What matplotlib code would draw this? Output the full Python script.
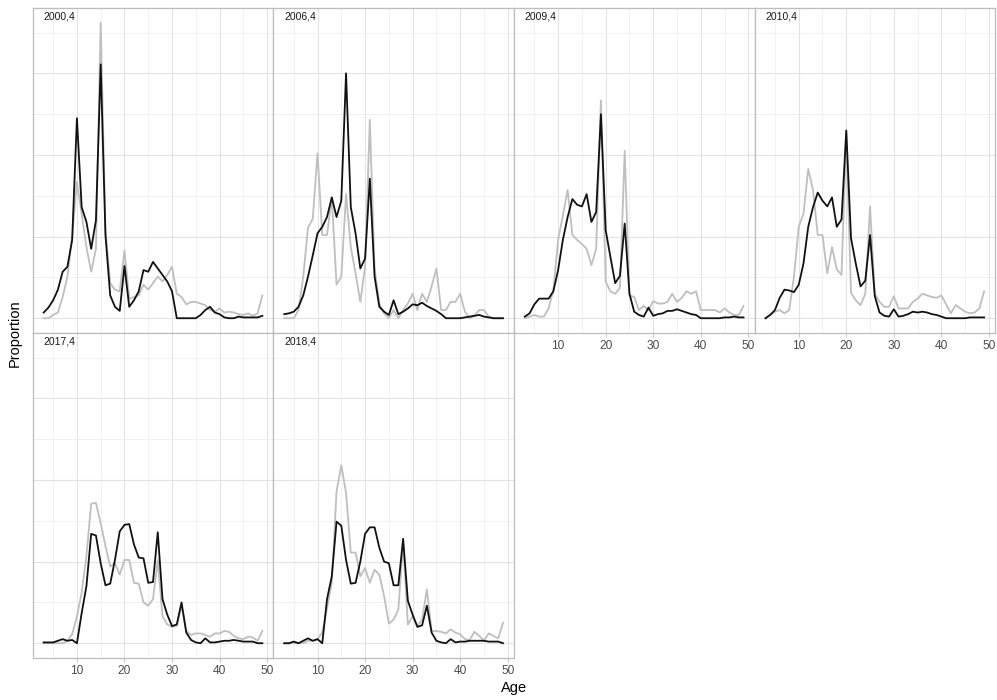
import matplotlib
matplotlib.use("Agg")
import matplotlib.pyplot as plt
from matplotlib.ticker import MultipleLocator
import numpy as np

plt.rcParams['font.family'] = ['Liberation Sans', 'DejaVu Sans']

# ages in the catch, 3..49
ages = np.arange(3, 50)

labels = ["2000,4", "2006,4", "2009,4", "2010,4", "2017,4", "2018,4"]

# observed proportions at age (black) and predicted (grey)
obs_2000 = [0.007, 0.013, 0.022, 0.035, 0.057, 0.063, 0.096, 0.245, 0.136, 0.118,
            0.085, 0.120, 0.311, 0.102, 0.028, 0.014, 0.009, 0.064, 0.014, 0.022,
            0.033, 0.059, 0.057, 0.069, 0.061, 0.053, 0.045, 0.033, 0.000, 0.000,
            0.000, 0.000, 0.000, 0.004, 0.010, 0.014, 0.007, 0.005, 0.001, 0.000,
            0.000, 0.002, 0.001, 0.001, 0.001, 0.001, 0.003]
pred_2000 = [0.000, 0.000, 0.004, 0.007, 0.026, 0.051, 0.100, 0.167, 0.128, 0.087,
             0.057, 0.085, 0.362, 0.108, 0.043, 0.035, 0.033, 0.083, 0.024, 0.026,
             0.028, 0.041, 0.035, 0.043, 0.051, 0.045, 0.053, 0.063, 0.030, 0.026,
             0.017, 0.020, 0.020, 0.018, 0.016, 0.010, 0.008, 0.012, 0.007, 0.008,
             0.007, 0.005, 0.004, 0.006, 0.003, 0.006, 0.028]

obs_2006 = [0.005, 0.006, 0.008, 0.014, 0.028, 0.051, 0.077, 0.104, 0.112, 0.124,
            0.148, 0.124, 0.144, 0.300, 0.136, 0.104, 0.061, 0.073, 0.171, 0.051,
            0.014, 0.008, 0.004, 0.022, 0.005, 0.008, 0.012, 0.017, 0.016, 0.019,
            0.015, 0.012, 0.009, 0.005, 0.000, 0.000, 0.000, 0.000, 0.001, 0.002,
            0.003, 0.004, 0.002, 0.001, 0.000, 0.000, 0.000]
pred_2006 = [0.000, 0.000, 0.000, 0.010, 0.051, 0.111, 0.122, 0.202, 0.102, 0.102,
             0.148, 0.041, 0.051, 0.152, 0.087, 0.055, 0.020, 0.063, 0.243, 0.061,
             0.018, 0.006, 0.000, 0.010, 0.000, 0.010, 0.018, 0.030, 0.010, 0.030,
             0.020, 0.039, 0.061, 0.010, 0.010, 0.020, 0.020, 0.030, 0.008, 0.000,
             0.003, 0.010, 0.010, 0.002, 0.000, 0.000, 0.000]

obs_2009 = [0.002, 0.006, 0.017, 0.024, 0.024, 0.024, 0.033, 0.059, 0.096, 0.124,
            0.146, 0.139, 0.137, 0.152, 0.118, 0.130, 0.250, 0.108, 0.075, 0.043,
            0.052, 0.116, 0.030, 0.008, 0.004, 0.002, 0.013, 0.003, 0.005, 0.006,
            0.009, 0.009, 0.011, 0.009, 0.007, 0.005, 0.004, 0.000, 0.000, 0.000,
            0.000, 0.000, 0.001, 0.001, 0.002, 0.001, 0.001]
pred_2009 = [0.000, 0.002, 0.004, 0.002, 0.002, 0.012, 0.035, 0.096, 0.126, 0.157,
             0.102, 0.096, 0.091, 0.085, 0.065, 0.085, 0.267, 0.045, 0.033, 0.030,
             0.037, 0.205, 0.028, 0.026, 0.010, 0.015, 0.010, 0.021, 0.018, 0.018,
             0.020, 0.030, 0.020, 0.025, 0.033, 0.030, 0.033, 0.010, 0.010, 0.010,
             0.010, 0.007, 0.012, 0.007, 0.004, 0.004, 0.015]

obs_2010 = [0.000, 0.004, 0.010, 0.025, 0.035, 0.034, 0.032, 0.041, 0.067, 0.112,
            0.136, 0.154, 0.144, 0.137, 0.148, 0.112, 0.121, 0.230, 0.098, 0.067,
            0.039, 0.046, 0.102, 0.027, 0.007, 0.003, 0.002, 0.011, 0.002, 0.003,
            0.005, 0.008, 0.007, 0.008, 0.007, 0.005, 0.004, 0.002, 0.000, 0.000,
            0.000, 0.000, 0.000, 0.001, 0.001, 0.001, 0.001]
pred_2010 = [0.000, 0.004, 0.008, 0.010, 0.006, 0.010, 0.051, 0.112, 0.128, 0.183,
             0.157, 0.102, 0.102, 0.055, 0.087, 0.060, 0.053, 0.226, 0.031, 0.022,
             0.016, 0.030, 0.137, 0.030, 0.020, 0.014, 0.014, 0.027, 0.012, 0.012,
             0.012, 0.020, 0.024, 0.030, 0.028, 0.026, 0.025, 0.028, 0.017, 0.006,
             0.016, 0.012, 0.008, 0.006, 0.007, 0.012, 0.033]

obs_2017 = [0.001, 0.001, 0.001, 0.003, 0.005, 0.003, 0.004, 0.000, 0.037, 0.070,
            0.134, 0.132, 0.098, 0.071, 0.073, 0.102, 0.137, 0.145, 0.146, 0.121,
            0.105, 0.104, 0.074, 0.075, 0.136, 0.054, 0.035, 0.021, 0.023, 0.050,
            0.013, 0.004, 0.001, 0.000, 0.006, 0.001, 0.001, 0.002, 0.003, 0.003,
            0.004, 0.003, 0.002, 0.002, 0.002, 0.000, 0.000]
pred_2017 = [0.000, 0.000, 0.000, 0.000, 0.000, 0.003, 0.011, 0.033, 0.062, 0.107,
             0.171, 0.172, 0.147, 0.119, 0.094, 0.098, 0.084, 0.102, 0.102, 0.074,
             0.073, 0.050, 0.046, 0.054, 0.102, 0.033, 0.023, 0.020, 0.021, 0.046,
             0.015, 0.010, 0.012, 0.012, 0.010, 0.008, 0.012, 0.012, 0.015, 0.014,
             0.009, 0.006, 0.005, 0.008, 0.007, 0.003, 0.015]

obs_2018 = [0.000, 0.000, 0.002, 0.000, 0.003, 0.006, 0.003, 0.005, 0.000, 0.054,
            0.082, 0.149, 0.144, 0.102, 0.073, 0.074, 0.100, 0.134, 0.142, 0.142,
            0.117, 0.100, 0.098, 0.071, 0.071, 0.128, 0.052, 0.035, 0.020, 0.022,
            0.046, 0.013, 0.003, 0.001, 0.000, 0.005, 0.001, 0.002, 0.002, 0.003,
            0.003, 0.003, 0.003, 0.002, 0.002, 0.002, 0.000]
pred_2018 = [0.000, 0.000, 0.000, 0.000, 0.000, 0.003, 0.003, 0.005, 0.013, 0.043,
             0.074, 0.186, 0.218, 0.184, 0.111, 0.111, 0.082, 0.092, 0.074, 0.090,
             0.084, 0.058, 0.024, 0.029, 0.041, 0.123, 0.023, 0.033, 0.021, 0.029,
             0.066, 0.015, 0.015, 0.014, 0.012, 0.017, 0.013, 0.011, 0.005, 0.004,
             0.014, 0.009, 0.003, 0.012, 0.009, 0.006, 0.025]

obs = [obs_2000, obs_2006, obs_2009, obs_2010, obs_2017, obs_2018]
pred = [pred_2000, pred_2006, pred_2009, pred_2010, pred_2017, pred_2018]

W, H = 997, 700
fig = plt.figure(figsize=(W / 100, H / 100), dpi=100)

# facet grid geometry in pixels
left0, top0 = 32.7, 8.0
pw, ph = 240.6, 325.0
ncol = 4

# shared scales with 5% padding, like ggplot's default expansion
ymax = max(max(max(o), max(p)) for o, p in zip(obs, pred))
xr = ages.max() - ages.min()
xlim = (ages.min() - 0.05 * xr, ages.max() + 0.05 * xr)
ylim = (-0.05 * ymax, 1.05 * ymax)

border = "#bdbdbd"
for i, lab in enumerate(labels):
    r, c = divmod(i, ncol)
    x0 = left0 + c * pw
    y0 = top0 + r * ph
    ax = fig.add_axes([x0 / W, 1 - (y0 + ph) / H, pw / W, ph / H])

    ax.plot(ages, pred[i], color="#bfbfbf", lw=1.3, zorder=2)
    ax.plot(ages, obs[i], color="#111111", lw=1.3, zorder=3)

    ax.set_xlim(*xlim)
    ax.set_ylim(*ylim)
    ax.xaxis.set_major_locator(MultipleLocator(10))
    ax.xaxis.set_minor_locator(MultipleLocator(5))
    ax.yaxis.set_major_locator(MultipleLocator(0.1))
    ax.yaxis.set_minor_locator(MultipleLocator(0.05))
    ax.set_axisbelow(True)
    ax.grid(which="major", color="#e3e3e3", lw=0.8)
    ax.grid(which="minor", color="#efefef", lw=0.6)

    for s in ax.spines.values():
        s.set_color(border)
        s.set_linewidth(0.9)

    ax.tick_params(axis="y", which="both", left=False, labelleft=False)
    ax.tick_params(axis="x", which="minor", bottom=False)
    # x labels only where no panel sits underneath
    show_x = (i + ncol) >= len(labels)
    ax.tick_params(axis="x", which="major", length=3 if show_x else 0,
                   color=border, width=0.6, labelsize=8.6,
                   labelcolor="#4d4d4d", pad=2, labelbottom=show_x)

    ax.text(11 / pw, 1 - 8.5 / ph, lab, transform=ax.transAxes,
            ha="left", va="center", fontsize=7.5, color="#1a1a1a")

fig.text((left0 + 2 * pw) / W, 1 - 688 / H, "Age", ha="center", va="center",
         fontsize=10.5, color="black")
fig.text(15 / W, 1 - (top0 + ph) / H, "Proportion", rotation=90,
         ha="center", va="center", fontsize=10.5, color="black")

fig.savefig("out.png", dpi=100)
